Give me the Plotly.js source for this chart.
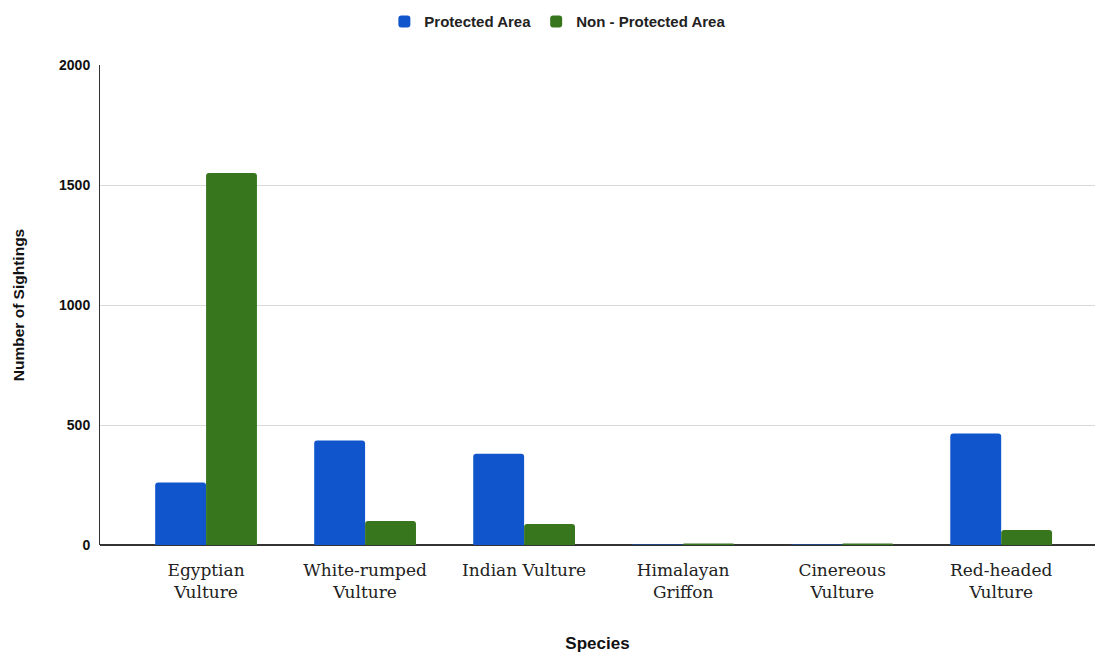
<!DOCTYPE html>
<html><head><meta charset="utf-8">
<script src="https://cdn.plot.ly/plotly-3.0.1.min.js"></script>
<style>body{margin:0;background:#fff}#c{width:1096px;height:653px}</style>
</head><body><div id="c"></div>
<script>
const categories = ["Egyptian<br>Vulture","White-rumped<br>Vulture","Indian Vulture","Himalayan<br>Griffon","Cinereous<br>Vulture","Red-headed<br>Vulture"];
const protectedArea = [260, 435, 380, 2, 2, 465];
const nonProtectedArea = [1550, 100, 88, 6, 6, 62];
const seriesNames = ["Protected Area", "Non - Protected Area"];
const yTicks = [0, 500, 1000, 1500, 2000];

const traces = [
  {type:'bar', name:seriesNames[0], x:categories, y:protectedArea, marker:{color:'#1155cc'}},
  {type:'bar', name:seriesNames[1], x:categories, y:nonProtectedArea, marker:{color:'#38761d'}}
];
const layout = {
  width:1096, height:653,
  margin:{l:100, r:1, t:65, b:108},
  paper_bgcolor:'#fff', plot_bgcolor:'#fff',
  barmode:'group', bargap:0.36, bargroupgap:0, barcornerradius:3,
  showlegend:true,
  legend:{orientation:'h', x:0.509, xanchor:'center', xref:'container', y:0.992, yref:'container', yanchor:'top',
    font:{family:'Arial, Liberation Sans', size:15, color:'#222', weight:'bold'}, itemwidth:30, traceorder:'normal'},
  xaxis:{type:'category', range:[-0.667, 5.59], showline:false, ticks:'', showgrid:false,
    ticklabelstandoff:13,
    tickfont:{family:'DejaVu Serif, serif', size:17, color:'#222'},
    title:{text:'<b>Species</b>', font:{family:'Arial, Liberation Sans', size:17, color:'#111'}, standoff:36}},
  yaxis:{range:[0,2000], tickvals:yTicks, ticktext:yTicks.map(v=>'<b>'+v+'</b>'),
    showline:true, linecolor:'#333', linewidth:1, gridcolor:'#d9d9d9', zeroline:true, zerolinecolor:'#333', zerolinewidth:1.5,
    ticks:'', ticklabelstandoff:6, tickfont:{family:'Arial, Liberation Sans', size:14, color:'#111'},
    title:{text:'<b>Number of Sightings</b>', font:{family:'Arial, Liberation Sans', size:15.5, color:'#111'}, standoff:30}},
  font:{family:'Arial, Liberation Sans'}
};
Plotly.newPlot('c', traces, layout, {displayModeBar:false, staticPlot:true});
</script></body></html>
